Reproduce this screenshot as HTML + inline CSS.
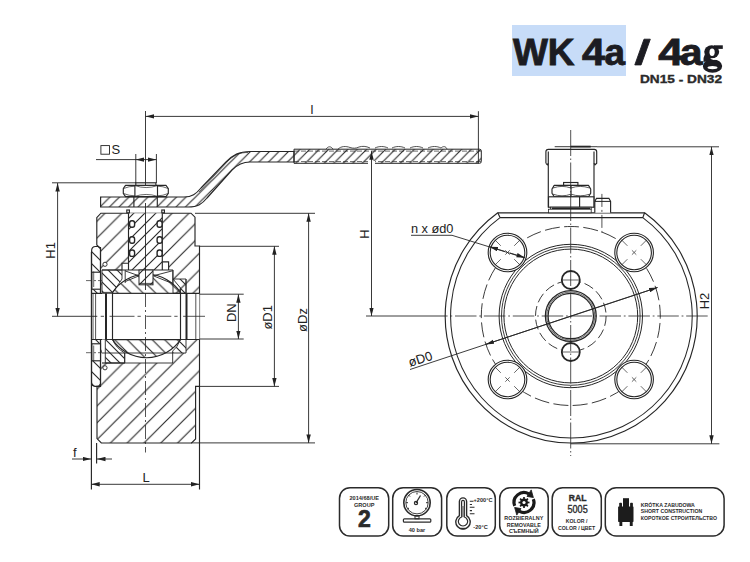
<!DOCTYPE html>
<html><head><meta charset="utf-8">
<style>
html,body{margin:0;padding:0;background:#fff;}
body{width:750px;height:562px;overflow:hidden;position:relative;font-family:"Liberation Sans",sans-serif;}
svg{position:absolute;left:0;top:0;}
</style></head>
<body>
<svg width="750" height="562" viewBox="0 0 750 562">
<defs>
  <pattern id="hB" patternUnits="userSpaceOnUse" x="15.8" y="0" width="16.8" height="16.8">
    <path d="M0,16.8 L16.8,0 M-2,2 L2,-2 M14.8,18.8 L18.8,14.8" stroke="#2a2a2a" stroke-width="1.15"/>
  </pattern>
  <pattern id="hI2" patternUnits="userSpaceOnUse" x="0" y="4" width="12" height="12">
    <path d="M0,0 L12,12 M-2,10 L2,14 M10,-2 L14,2" stroke="#2a2a2a" stroke-width="1.15"/>
  </pattern>
  <pattern id="hBall" patternUnits="userSpaceOnUse" x="0" y="0" width="12.5" height="12.5">
    <path d="M0,0 L12.5,12.5 M-2,10.5 L2,14.5 M10.5,-2 L14.5,2" stroke="#2a2a2a" stroke-width="1.15"/>
  </pattern>
  <pattern id="hS" patternUnits="userSpaceOnUse" x="6" y="0" width="11" height="11">
    <path d="M0,11 L11,0 M-2,2 L2,-2 M9,13 L13,9" stroke="#2a2a2a" stroke-width="1.15"/>
  </pattern>
  <pattern id="hH" patternUnits="userSpaceOnUse" x="3" y="0" width="9.5" height="9.5">
    <path d="M0,9.5 L9.5,0 M-2,2 L2,-2 M7.5,11.5 L11.5,7.5" stroke="#2a2a2a" stroke-width="1.15"/>
  </pattern>
  <pattern id="hI" patternUnits="userSpaceOnUse" x="0" y="0" width="9" height="9">
    <path d="M0,0 L9,9 M-2,7 L2,11 M7,-2 L11,2" stroke="#2a2a2a" stroke-width="1.15"/>
  </pattern>
  <marker id="ar" viewBox="0 0 8.5 5" refX="8.5" refY="2.5" markerWidth="8.5" markerHeight="5" markerUnits="userSpaceOnUse" orient="auto-start-reverse">
    <path d="M0,0.3 L8.5,2.5 L0,4.7 Z" fill="#222"/>
  </marker>
</defs>

<!-- ============ TITLE ============ -->
<rect x="512" y="25" width="114" height="51" fill="#c7dcf8"/>
<g font-family="Liberation Sans" font-weight="bold" font-size="37" fill="#1c1c22" stroke="#1c1c22" stroke-width="0.9">
  <text x="513" y="64.9">W</text>
  <text x="547.8" y="64.9">K</text>
  <text x="582" y="64.9" textLength="23" lengthAdjust="spacingAndGlyphs">4</text>
  <text x="604.5" y="64.9" textLength="20.5" lengthAdjust="spacingAndGlyphs">a</text>
  <path d="M634.8,64.9 L641.1,64.9 L650.3,39.2 L644,39.2 Z"/>
  <text x="658.3" y="64.9" textLength="25" lengthAdjust="spacingAndGlyphs">4</text>
  <text x="680" y="64.9" textLength="22.5" lengthAdjust="spacingAndGlyphs">a</text>
  <g stroke="none">
    <ellipse cx="711.7" cy="51.8" rx="7.5" ry="6.5"/>
    <rect x="714" y="45.3" width="8.8" height="3.6"/>
    <path d="M705,54 L710,57.5 L712,60.5 L703.5,62 Q703,57.5 705,54 Z"/>
    <ellipse cx="712.5" cy="66" rx="9.7" ry="6.8"/>
    <ellipse cx="712.1" cy="52.3" rx="2.6" ry="3.7" fill="#fff"/>
    <ellipse cx="712.5" cy="67.6" rx="5" ry="1.7" fill="#fff"/>
    <path d="M712.5,58.6 Q717,57.6 721.5,58.2 Q722.5,59.4 721.5,60.4 Q717,59.6 712.5,59.9 Z" fill="#fff"/>
  </g>
</g>
<text x="640" y="83.3" font-family="Liberation Sans" font-weight="bold" font-size="11.3" fill="#2a2a2a" stroke="#2a2a2a" stroke-width="0.35" textLength="82" lengthAdjust="spacingAndGlyphs">DN15 - DN32</text>

<g id="left" fill="none" stroke="#262626" stroke-width="1.15">
  <!-- body hatched envelope -->
  <path d="M96.8,217.6 L100.9,213.2 L191,213.2 L195,217.2 L195,246 L199.5,246 L199.5,386.3 L195.6,386.3 L195.6,439 L191.6,443 L101.3,443 L97,438.6 L97,386.3 L100.5,386.3 L100.5,247.6 L99.6,247.6 L96.8,245 Z" fill="url(#hB)"/>
  <!-- left insert -->
  <path d="M91.6,251 Q91.6,246.5 95.5,246.5 L98.5,246.5 L100.5,248.5 L100.5,384 L98.5,386.3 L95,386.3 Q91.6,386.3 91.6,382 Z" fill="url(#hI2)"/>
  <circle cx="105" cy="264.3" r="2.1" fill="#fff" stroke-width="0.9"/>
  <circle cx="105" cy="367.8" r="2.1" fill="#fff" stroke-width="0.9"/>
  <rect x="91.9" y="272.2" width="8.6" height="17" fill="#fff"/><line x1="93.7" y1="271.5" x2="93.7" y2="287" stroke-width="0.7"/>
  <rect x="91.9" y="343.8" width="8.6" height="17" fill="#fff"/><line x1="93.7" y1="345.5" x2="93.7" y2="361" stroke-width="0.7"/>
  <line x1="86" y1="280.6" x2="105" y2="280.6" stroke-width="0.7" stroke-dasharray="6,2,2,2"/>
  <line x1="86" y1="352.7" x2="105" y2="352.7" stroke-width="0.7" stroke-dasharray="6,2,2,2"/>
  <!-- bore (white) -->
  <rect x="91.2" y="293.3" width="108.3" height="46.2" fill="#fff" stroke="none"/>
  <line x1="91.2" y1="293.3" x2="199.5" y2="293.3"/>
  <line x1="91.2" y1="339.5" x2="199.5" y2="339.5"/>
  <!-- stem (fills stem bore) -->
  <path d="M128.5,213.2 L162.3,213.2 L162.3,261.8 L168.6,261.8 L168.6,270 L122,270 L122,263.2 L128.5,263.2 Z" fill="#fff" stroke="none"/>
  <rect x="128.5" y="213.2" width="33.8" height="56.8" fill="url(#hS)" stroke="none"/>
  <line x1="128.5" y1="213.2" x2="128.5" y2="270"/>
  <line x1="162.3" y1="213.2" x2="162.3" y2="270"/>
  <path d="M128.5,263.2 L122,263.2 L122,270 M162.3,261.8 L168.6,261.8 L168.6,270"/>
  <!-- top seat zone -->
  <rect x="102" y="270" width="71" height="23.3" fill="#fff" stroke="none"/>
  <path d="M102,270 L122,270 L122,279 L113,292.4 L102,292.4 Z" fill="url(#hI)" stroke-width="0.9"/>
  <path d="M173,279 L186,279 L186,293.3 L180.5,293.3 L180.5,288 Z" fill="url(#hI)" stroke-width="0.9"/>
  <line x1="125.2" y1="270" x2="125.2" y2="283" stroke-width="0.9"/>
  <line x1="172.8" y1="270" x2="172.8" y2="285" stroke-width="0.9"/>
  <path d="M125.4,271 L139,275.8 L125.4,281.5 M172.5,270.8 L153.3,275.8 L172.5,283.5" stroke-width="0.9"/>
  <line x1="102" y1="270" x2="173" y2="270"/>
  <line x1="173" y1="270" x2="173" y2="293.3" stroke-width="0.9"/>
  <line x1="186" y1="279" x2="186" y2="293.3" stroke-width="0.9"/>
  <!-- bottom seat zone -->
  <rect x="102" y="339.5" width="84" height="13.5" fill="#fff" stroke="none"/>
  <rect x="102" y="353" width="70.7" height="10" fill="#fff" stroke="none"/>
  <path d="M105.3,339.5 L112.5,339.5 Q116,348 124.7,353 L124.7,363 L105.3,363 Z" fill="url(#hI)" stroke-width="0.9"/>
  <path d="M172.7,353 L186,353 L186,339.5 L180.5,339.5 Q177,348 172.7,351 Z" fill="url(#hI)" stroke-width="0.9"/>
  <rect x="124.7" y="353" width="48" height="10" stroke-width="0.9"/>
  <line x1="102" y1="353" x2="124.7" y2="353" stroke-width="0.9"/>
  <line x1="102" y1="363" x2="124.7" y2="363"/>
  <!-- ball caps -->
  <path d="M112.5,292.4 A41,41 0 0 1 180.5,292.4 L180.5,293.3 L112.5,293.3 Z" fill="url(#hBall)" stroke-width="1.1"/>
  <path d="M112.5,339.6 A41,41 0 0 0 180.5,339.6 Z" fill="url(#hBall)" stroke-width="1.1"/>
  <!-- stem tang -->
  <rect x="139" y="270" width="14" height="14.8" fill="#fff" stroke="none"/>
  <rect x="139" y="270" width="14" height="14.8" fill="url(#hS)" stroke-width="1"/>
  <line x1="139" y1="283.4" x2="153" y2="283.4" stroke-width="0.8"/>
  <!-- bore vertical lines -->
  <line x1="93" y1="293.3" x2="93" y2="339.5" stroke-width="0.8"/>
  <line x1="95.6" y1="293.3" x2="95.6" y2="339.5" stroke-width="0.8"/>
  <line x1="106" y1="293.3" x2="106" y2="339.5" stroke-width="2"/>
  <line x1="112.5" y1="292.4" x2="112.5" y2="339.6"/>
  <line x1="180.5" y1="292.4" x2="180.5" y2="339.6"/>
  <line x1="186.5" y1="293.3" x2="186.5" y2="339.5" stroke-width="2"/>
  <line x1="195.8" y1="293.3" x2="195.8" y2="339.5" stroke-width="0.8"/>
  <line x1="100.5" y1="247" x2="100.5" y2="293.3" stroke-width="0.9"/>
  <line x1="100.5" y1="339.5" x2="100.5" y2="386.3" stroke-width="0.9"/>
  <!-- o-rings -->
  <g fill="#fff" stroke-width="1.4">
    <rect x="129.6" y="220.8" width="5" height="6.4" rx="2.2"/>
    <rect x="157.1" y="220.8" width="5" height="6.4" rx="2.2"/>
    <rect x="129.6" y="236.8" width="5" height="6.4" rx="2.2"/>
    <rect x="157.1" y="236.8" width="5" height="6.4" rx="2.2"/>
    <rect x="129.6" y="250" width="5" height="6.4" rx="2.2"/>
    <rect x="157.1" y="250" width="5" height="6.4" rx="2.2"/>
  </g>
  <rect x="126.8" y="210" width="2.6" height="2.8" fill="#fff"/>
  <rect x="161.8" y="210" width="2.6" height="2.8" fill="#fff"/>
  <!-- handle plate and lever -->
  <path d="M100.6,197 L184,197 C192,197 196,194 201,188 L226,162 C233,155 239,151.5 250,151.5 L294,151.5 L294,162 L250,162 C242,162 237,165 232,170 L207,198 C202,204 198,207 188,207 L100.6,207 Z" fill="url(#hH)"/>
  <path d="M199,192 L229,160 C235,154.5 240,152.5 248,152.5" stroke-width="0.7"/>
  <!-- grip sleeve -->
  <path d="M294,149.2 L479.5,149.2 Q481.3,149.2 481.3,151 L481.3,161.5 Q481.3,163.3 479.5,163.3 L294,163.3 Z" fill="url(#hH)" stroke-width="1"/>
  <line x1="294" y1="151.1" x2="481" y2="151.1" stroke-width="0.7" stroke-dasharray="5,2"/>
  <line x1="294" y1="161.6" x2="481" y2="161.6" stroke-width="0.7" stroke-dasharray="5,2"/>
  <path d="M326,149.2 C328,146 331,146 333,149.2 M338,149.2 C341,146 346,146 350,147.5 C353,148.5 356,148.5 359,147 C362,146 366,146 370,148 M375,148 C379,146 384,146 388,148 M392,148 C396,146 401,146 405,148 M410,148 C414,146 419,146 423,148 M428,148 C432,146 437,146 441,148 C443,146 446,146 447,149.2" stroke-width="0.8"/>
  <!-- nut -->
  <path d="M125.5,185.3 L166,185.3 L168.3,188.5 L168.3,193.5 L166,196.6 L125.5,196.6 L123.3,193.5 L123.3,188.5 Z" fill="#fff" stroke-width="1.15" stroke-linejoin="round"/>
  <line x1="134.9" y1="185.3" x2="134.9" y2="196.6"/>
  <line x1="157.5" y1="185.3" x2="157.5" y2="196.6"/>
  <path d="M134.9,185.6 Q146.2,189.5 157.5,185.6 M134.9,196.3 Q146.2,192.6 157.5,196.3 M123.5,188.5 Q129,186.2 134.9,186.2 M123.5,193.5 Q129,195.8 134.9,195.8 M157.5,186.2 Q163,186.2 168.1,188.5 M157.5,195.8 Q163,195.8 168.1,193.5" stroke-width="0.7"/>
  <!-- stem top -->
  <rect x="135.8" y="182.8" width="20.1" height="2.5" fill="#fff"/>
  <line x1="133.9" y1="197" x2="133.9" y2="207"/>
  <line x1="157.3" y1="197" x2="157.3" y2="207"/>
  <!-- centerlines -->
  <line x1="145.5" y1="111" x2="145.5" y2="185.3" stroke-width="0.9"/>
  <line x1="145.5" y1="203" x2="145.5" y2="290" stroke-width="0.9"/>
  <line x1="145.5" y1="293" x2="145.5" y2="452.5" stroke-width="0.8" stroke-dasharray="14,3,2,3"/>
  <line x1="52" y1="316.3" x2="97.3" y2="316.3" stroke-width="0.9"/>
  <line x1="100.7" y1="316.3" x2="205" y2="316.3" stroke-width="0.8" stroke-dasharray="3.3,5.5,25,3"/>
  <!-- left outer lines -->
  <line x1="91.4" y1="252" x2="91.4" y2="489.5"/>
  <line x1="96.6" y1="443" x2="96.6" y2="463.5"/>
  <line x1="199.5" y1="386.3" x2="199.5" y2="489.5"/>
</g>

<!-- ============ RIGHT VIEW ============ -->
<g id="right" fill="none" stroke="#262626" stroke-width="1.15">
  <!-- flange outline -->
  <path d="M497.8,212.8 L644.6,212.8 A126,127 0 1 1 497.8,212.8 Z" fill="#fff" stroke-width="1.15"/>
  <path d="M500,217.6 L642.8,217.6 A120.8,122 0 1 1 500,217.6" stroke-width="1.05"/>
  <line x1="497.8" y1="212.8" x2="500" y2="217.6"/>
  <line x1="644.6" y1="212.8" x2="642.8" y2="217.6"/>
  <!-- bolt circle -->
  <circle cx="570.8" cy="316" r="89.5" stroke-width="0.9" stroke-dasharray="15,4.39" stroke-dashoffset="12.28"/>
  <!-- raised face -->
  <circle cx="570.8" cy="316" r="71.7" stroke-width="1"/>
  <circle cx="570.8" cy="316" r="69.3" stroke-width="0.9"/>
  <circle cx="570.8" cy="316" r="66.9" stroke-width="1"/>
  <!-- inner dashed -->
  <circle cx="570.8" cy="316" r="35.3" stroke-width="0.9" stroke-dasharray="10,3.86"/>
  <!-- bore -->
  <circle cx="570.8" cy="316" r="25.4" stroke-width="1.3"/>
  <circle cx="570.8" cy="316" r="24" stroke-width="0.7"/>
  <circle cx="570.8" cy="316" r="22.7" stroke-width="1.2"/>
  <!-- small holes -->
  <circle cx="570.8" cy="280" r="9" stroke-width="1.8" fill="#fff"/>
  <circle cx="570.8" cy="352" r="9" stroke-width="1.8" fill="#fff"/>
  <line x1="561.5" y1="280" x2="580" y2="280" stroke-width="0.7"/>
  <line x1="561.5" y1="352" x2="580" y2="352" stroke-width="0.7"/>
  <!-- bolt holes -->
  <g stroke-width="1.1">
    <circle cx="507.5" cy="252.5" r="19.3" fill="#fff"/><circle cx="507.5" cy="252.5" r="17.3"/>
    <circle cx="634.1" cy="252.5" r="19.3" fill="#fff"/><circle cx="634.1" cy="252.5" r="17.3"/>
    <circle cx="507.5" cy="379.5" r="19.3" fill="#fff"/><circle cx="507.5" cy="379.5" r="17.3"/>
    <circle cx="634.1" cy="379.5" r="19.3" fill="#fff"/><circle cx="634.1" cy="379.5" r="17.3"/>
  </g>
  <g stroke-width="0.7">
    <path d="M494.8,239.8 L500.8,245.8 M505.3,250.3 L509.7,254.7 M514.2,259.2 L520.2,265.2 M494.8,265.2 L500.8,259.2 M514.2,245.8 L520.2,239.8 M505.3,254.7 L509.7,250.3"/>
    <path d="M621.4,239.8 L627.4,245.8 M631.9,250.3 L636.3,254.7 M640.8,259.2 L646.8,265.2 M621.4,265.2 L627.4,259.2 M640.8,245.8 L646.8,239.8 M631.9,254.7 L636.3,250.3"/>
    <path d="M494.8,366.8 L500.8,372.8 M505.3,377.3 L509.7,381.7 M514.2,386.2 L520.2,392.2 M494.8,392.2 L500.8,386.2 M514.2,372.8 L520.2,366.8 M505.3,381.7 L509.7,377.3"/>
    <path d="M621.4,366.8 L627.4,372.8 M631.9,377.3 L636.3,381.7 M640.8,386.2 L646.8,392.2 M621.4,392.2 L627.4,386.2 M640.8,372.8 L646.8,366.8 M631.9,381.7 L636.3,377.3"/>
  </g>
  <!-- centerlines -->
  <line x1="366" y1="316" x2="446" y2="316" stroke-width="0.9"/>
  <line x1="446" y1="316" x2="709.5" y2="316" stroke-width="0.8" stroke-dasharray="21.5,2.8,1.8,2.8" stroke-dashoffset="19.9"/>
  
  <!-- top stem assembly -->
  <path d="M545.9,163.3 L545.9,151.8 Q545.9,149.3 548.4,149.3 L594.2,149.3 Q596.7,149.3 596.7,151.8 L596.7,163.3 L595,164.8 L594,163.3" fill="#fff"/>
  <path d="M545.9,163.3 L547.4,164.8 L548.3,163.3"/>
  <line x1="554.7" y1="146.7" x2="597" y2="146.7" stroke-width="0.9"/>
  <line x1="570.7" y1="146.6" x2="590.7" y2="146.6" stroke-width="1.8"/>
  <line x1="548.3" y1="151.5" x2="548.3" y2="207.4"/>
  <line x1="594" y1="151.5" x2="594" y2="207.4"/>
  <rect x="563.6" y="182.5" width="14.3" height="3" fill="#fff"/>
  <path d="M554.2,185.4 L588.5,185.4 L590.7,189 L590.7,193.2 L588.5,196.7 L554.2,196.7 L552,193.2 L552,189 Z" fill="#fff" stroke-width="1.15" stroke-linejoin="round"/>
  <line x1="571" y1="185.5" x2="571" y2="196.8"/>
  <path d="M553,188 Q562,184.8 571,188 Q580,184.8 589.7,188 M553,194.2 Q562,197.4 571,194.2 Q580,197.4 589.7,194.2" stroke-width="0.75"/>
  <rect x="548.5" y="196.8" width="45.4" height="10.4" fill="#fff"/>
  <line x1="579.6" y1="196.8" x2="579.6" y2="207.2"/>
  <rect x="550.5" y="207.2" width="40.7" height="2" fill="#fff" stroke-width="0.8"/>
  <line x1="552" y1="208.4" x2="590" y2="208.4" stroke-width="1.6"/>
  <rect x="548.5" y="209.2" width="42.7" height="3.6" fill="#fff" stroke-width="0.8"/>
  <path d="M594.8,212.8 L594.8,201.4 L596.5,198.3 L608.9,198.3 L610.6,201.4 L610.6,212.8" fill="#fff"/>
  <line x1="594.8" y1="201.4" x2="610.6" y2="201.4" stroke-width="1"/>
  <line x1="570.7" y1="130" x2="570.7" y2="456" stroke-width="0.8" stroke-dasharray="26,2.5,1.5,2.5"/>
  <line x1="601.9" y1="193.9" x2="601.9" y2="233.4" stroke-width="0.8" stroke-dasharray="13,3,2,3"/>
  <!-- H2 -->
  <line x1="597" y1="146.8" x2="719" y2="146.8" stroke-width="0.9"/>
  <line x1="570.8" y1="443.8" x2="719.4" y2="443.8" stroke-width="0.9"/>
  <line x1="711.5" y1="146.8" x2="711.5" y2="443.8" stroke-width="0.9" marker-start="url(#ar)" marker-end="url(#ar)"/>
  <!-- n x d0 leader -->
  <path d="M411,235.3 L452,235.3 L524.3,257.7" stroke-width="0.9"/>
  <line x1="505" y1="251.5" x2="489.5" y2="246.7" stroke-width="0.9" marker-end="url(#ar)"/>
  <line x1="510" y1="253" x2="525" y2="257.7" stroke-width="0.9" marker-end="url(#ar)"/>
  <!-- D0 -->
  <line x1="410" y1="369.5" x2="657.5" y2="287.5" stroke-width="0.9"/>
  <line x1="571.2" y1="316" x2="657.5" y2="287.5" stroke-width="0.9" marker-end="url(#ar)"/>
  <line x1="571.2" y1="316" x2="485.6" y2="344.4" stroke-width="0.9" marker-end="url(#ar)"/>
</g>

<!-- ============ LEFT DIMENSIONS ============ -->
<g fill="none" stroke="#222" stroke-width="0.9">
  <!-- l -->
  <line x1="145.5" y1="116.4" x2="478.4" y2="116.4" marker-start="url(#ar)" marker-end="url(#ar)"/>
  <line x1="478.4" y1="111.2" x2="478.4" y2="163.3"/>
  <!-- S -->
  <line x1="135.8" y1="154" x2="135.8" y2="183"/>
  <line x1="156.4" y1="154" x2="156.4" y2="183"/>
  <line x1="96" y1="159.6" x2="136" y2="159.6"/>
  <line x1="145.5" y1="159.6" x2="135.8" y2="159.6" marker-end="url(#ar)"/>
  <line x1="145.5" y1="159.6" x2="156.4" y2="159.6" marker-end="url(#ar)"/>
  <!-- H1 -->
  <line x1="52" y1="182.8" x2="136" y2="182.8"/>
  <line x1="57.6" y1="183" x2="57.6" y2="316.3" marker-start="url(#ar)" marker-end="url(#ar)"/>
  <!-- DN -->
  <line x1="199.5" y1="294.2" x2="243.7" y2="294.2"/>
  <line x1="199.5" y1="339" x2="243.7" y2="339"/>
  <line x1="238.4" y1="294.3" x2="238.4" y2="339" marker-start="url(#ar)" marker-end="url(#ar)"/>
  <!-- D1 -->
  <line x1="199.5" y1="246.3" x2="279" y2="246.3"/>
  <line x1="199.5" y1="386.4" x2="279" y2="386.4"/>
  <line x1="274.4" y1="246.3" x2="274.4" y2="386.4" marker-start="url(#ar)" marker-end="url(#ar)"/>
  <!-- Dz -->
  <line x1="195" y1="213.3" x2="315" y2="213.3"/>
  <line x1="191" y1="442.9" x2="315" y2="442.9"/>
  <line x1="308.6" y1="213.3" x2="308.6" y2="442.9" marker-start="url(#ar)" marker-end="url(#ar)"/>
  <!-- L -->
  <line x1="91.2" y1="484.3" x2="199.5" y2="484.3" marker-start="url(#ar)" marker-end="url(#ar)"/>
  <!-- f -->
  <line x1="72" y1="459" x2="91.2" y2="459" marker-end="url(#ar)"/>
  <line x1="112" y1="459" x2="97" y2="459" marker-end="url(#ar)"/>
  <!-- H -->
  <rect x="368" y="161" width="7" height="3.5" fill="#fff" stroke="none"/>
  <line x1="371.5" y1="151.2" x2="371.5" y2="316" marker-start="url(#ar)" marker-end="url(#ar)"/>
</g>
<g font-family="Liberation Sans" font-size="13" fill="#222">
  <rect x="100.9" y="145.6" width="8.6" height="8.6" fill="none" stroke="#222" stroke-width="0.9"/>
  <text x="111.6" y="154.4">S</text>
  <text x="310.4" y="113.9">l</text>
  <text transform="translate(55,250.4) rotate(-90)" text-anchor="middle">H1</text>
  <text transform="translate(235.7,312.7) rotate(-90)" text-anchor="middle">DN</text>
  <text transform="translate(272.3,317.3) rotate(-90)" text-anchor="middle">øD1</text>
  <text transform="translate(307.3,320) rotate(-90)" text-anchor="middle">øDz</text>
  <text x="142.4" y="481.6">L</text>
  <text x="73" y="456.7">f</text>
  <text transform="translate(369.1,234) rotate(-90)" text-anchor="middle">H</text>
  <text transform="translate(709.1,301) rotate(-90)" text-anchor="middle">H2</text>
  <text x="410.9" y="232.9" textLength="42.5" lengthAdjust="spacingAndGlyphs">n x ød0</text>
  <text transform="translate(410,367) rotate(-18)">øD0</text>
</g>


<!-- ============ BADGES ============ -->
<g fill="#fff" stroke="#2b2b2b" stroke-width="1.5">
  <rect x="339.5" y="487.7" width="49.2" height="48.3" rx="10.5"/>
  <rect x="392.7" y="487.7" width="48.9" height="48.3" rx="10.5"/>
  <rect x="446.8" y="487.7" width="48.5" height="48.3" rx="10.5"/>
  <rect x="499.7" y="487.7" width="48.5" height="48.3" rx="10.5"/>
  <rect x="552.2" y="487.7" width="49.1" height="48.3" rx="10.5"/>
  <rect x="605.3" y="487.7" width="118.8" height="48.3" rx="11"/>
</g>
<g font-family="Liberation Sans" font-weight="bold" fill="#2b2b2b" text-anchor="middle">
  <text x="364.2" y="499.8" font-size="5.6">2014/68/UE</text>
  <text x="364.2" y="507" font-size="5.6">GROUP</text>
  <text x="364.3" y="527" font-size="23" stroke="#2b2b2b" stroke-width="0.7">2</text>
  <text x="417" y="531.8" font-size="5.6">40 bar</text>
  <text x="483" y="502" font-size="5.6">+200°C</text>
  <text x="480.5" y="528.5" font-size="5.6">-20°C</text>
  <text x="523.8" y="520.3" font-size="5.4">ROZBIERALNY</text>
  <text x="523.8" y="527.2" font-size="5.4">REMOVABLE</text>
  <text x="523.8" y="533.2" font-size="5.4">СЪЕМНЫЙ</text>
  <text x="577.6" y="501.3" font-size="9.8" stroke="#2b2b2b" stroke-width="0.4" textLength="17.6" lengthAdjust="spacingAndGlyphs">RAL</text>
  <text x="577.6" y="512.9" font-size="10" font-weight="normal" stroke="#2b2b2b" stroke-width="0.35" textLength="20.2" lengthAdjust="spacingAndGlyphs">5005</text>
  <text x="576.6" y="523.4" font-size="5.2">KOLOR /</text>
  <text x="576.6" y="529.8" font-size="5.2">COLOR / ЦВЕТ</text>
  <g text-anchor="start" font-size="5.2">
    <text x="640.8" y="507">KRÓTKA ZABUDOWA</text>
    <text x="640.8" y="513.2">SHORT CONSTRUCTION</text>
    <text x="640.8" y="519.6">КОРОТКОЕ СТРОИТЕЛЬСТВО</text>
  </g>
</g>
<!-- gauge icon -->
<g fill="none" stroke="#2b2b2b">
  <circle cx="417" cy="502.7" r="13.2" stroke-width="1.6"/>
  <circle cx="417" cy="502.7" r="11.2" stroke-width="0.9"/>
  <path d="M407.5,509 L409,508 M406,502.7 L408,502.7 M408.5,495 L410,496.5 M417,492.5 L417,494.5 M425.5,495 L424,496.5 M428,502.7 L426,502.7 M426.5,509 L425,508" stroke-width="1"/>
  <line x1="416" y1="503" x2="420.5" y2="495.5" stroke-width="1.3"/>
  <circle cx="416" cy="503" r="1.6" stroke-width="1.2"/>
  <rect x="415" y="515.8" width="4" height="3" stroke-width="1"/>
  <rect x="403.4" y="518.8" width="27.4" height="3.4" rx="1" stroke-width="1.2"/>
</g>
<!-- thermometer -->
<g fill="none" stroke="#2b2b2b">
  <path d="M459.4,515.6 L459.4,501.5 A3.6,3.6 0 0 1 466.6,501.5 L466.6,515.6 A7.2,7.2 0 1 1 459.4,515.6 Z" stroke-width="1.4"/>
  <path d="M461.6,517 L461.6,501.8 A1.4,1.4 0 0 1 464.4,501.8 L464.4,517 A4.6,4.6 0 1 1 461.6,517 Z" stroke-width="1.2"/>
  <rect x="461.8" y="506" width="2.4" height="11" fill="#8a8a8a" stroke="none"/>
  <path d="M460.5,528.6 L465.5,528.6" stroke-width="1.6"/>
  <path d="M469.8,501.3 L473.5,501.3 M469.8,504.5 L472,504.5 M469.8,507.3 L474.5,507.3 M469.8,510.6 L472,510.6 M469.8,513.7 L474.5,513.7" stroke-width="1.1"/>
</g>
<!-- removable icon -->
<g fill="none" stroke="#1a1a1a">
  <path d="M514.7,505.9 A9.9,9.9 0 0 1 528.95,493.9" stroke-width="3.2"/>
  <path d="M527.0,496.4 L531.2,489.9 L533.4,497.6 Z" fill="#1a1a1a" stroke-width="0.8" stroke-linejoin="round"/>
  <path d="M533.3,499.1 A9.9,9.9 0 0 1 519.05,511.1" stroke-width="3.2"/>
  <path d="M521.0,508.6 L516.8,515.1 L514.6,507.4 Z" fill="#1a1a1a" stroke-width="0.8" stroke-linejoin="round"/>
</g>
<g fill="#1a1a1a">
  <circle cx="524" cy="502.5" r="3.9"/>
  <g stroke="#1a1a1a" stroke-width="1.7">
    <line x1="524" y1="497" x2="524" y2="508"/>
    <line x1="518.5" y1="502.5" x2="529.5" y2="502.5"/>
    <line x1="520.1" y1="498.6" x2="527.9" y2="506.4"/>
    <line x1="527.9" y1="498.6" x2="520.1" y2="506.4"/>
  </g>
  <circle cx="524" cy="502.5" r="1.6" fill="#fff"/>
</g>
<!-- short construction icon -->
<g fill="#1c1c1c">
  <rect x="623" y="498.2" width="6" height="9"/>
  <rect x="619.2" y="502.7" width="2.8" height="5" rx="0.8"/>
  <rect x="630.1" y="502.7" width="2.8" height="5" rx="0.8"/>
  <rect x="618.1" y="506.5" width="15.4" height="15.4" rx="0.6"/>
  <rect x="619.4" y="521" width="2.9" height="5"/>
  <rect x="629.8" y="521" width="2.9" height="5"/>
</g>

</svg>
</body></html>
